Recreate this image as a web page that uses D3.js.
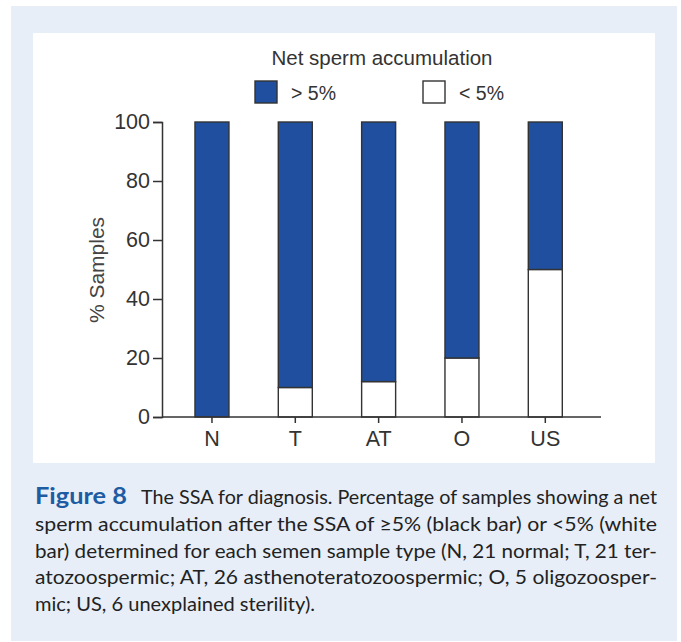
<!DOCTYPE html>
<html>
<head>
<meta charset="utf-8">
<script src="https://cdn.jsdelivr.net/npm/d3@7"></script>
<style>
  html, body { margin: 0; padding: 0; background: #fff; }
</style>
</head>
<body>
<div id="chart"></div>
<script>
// Percentage of samples per semen sample type
const categories = ['N', 'T', 'AT', 'O', 'US'];
const above5 = [100, 90, 88, 80, 50];   // net accumulation >= 5%
const below5 = [0, 10, 12, 20, 50];     // net accumulation < 5%
const yTicks = [0, 20, 40, 60, 80, 100];
const legendLabels = ['> 5%', '< 5%'];

const captionLines = [
    'sperm accumulation after the SSA of \u22655% (black bar) or <5% (white',
    'bar) determined for each semen sample type (N, 21 normal; T, 21 ter-',
    'atozoospermic; AT, 26 asthenoteratozoospermic; O, 5 oligozoosper-',
    'mic; US, 6 unexplained sterility).'
];

const W = 681, H = 642;
const blue = '#1f4f9e';
const ink = '#333';
const chartFont = '"Liberation Sans", Arial, sans-serif';

const svg = d3.select('#chart')
    .append('svg')
    .attr('width', W)
    .attr('height', H);

// outer panel and white plot area
svg.append('rect').attr('x', 11).attr('y', 6).attr('width', 666).attr('height', 635).attr('fill', '#e7eef8');
svg.append('rect').attr('x', 33).attr('y', 33).attr('width', 622).attr('height', 430).attr('fill', '#fff');

// scales
const x = d3.scaleBand()
    .domain(categories)
    .range([162, 601])
    .paddingInner(0.592)
    .paddingOuter(0.43)
    .align(0.46);

const y = d3.scaleLinear()
    .domain([0, 100])
    .range([417, 122]);

// stacked data
const stackData = categories.map((c, i) => ({ cat: c, below: below5[i], above: above5[i] }));
const series = d3.stack().keys(['below', 'above'])(stackData);
const fills = { below: '#fff', above: blue };

svg.append('g')
    .selectAll('g')
    .data(series)
    .enter()
    .append('g')
    .attr('fill', d => fills[d.key])
    .selectAll('rect')
    .data(d => d.filter(s => s[1] > s[0]))
    .enter()
    .append('rect')
    .attr('x', d => x(d.data.cat))
    .attr('y', d => y(d[1]))
    .attr('width', x.bandwidth())
    .attr('height', d => y(d[0]) - y(d[1]))
    .attr('stroke', ink)
    .attr('stroke-width', 1.4);

// y axis
const yAxis = svg.append('g')
    .attr('transform', 'translate(162,0)')
    .call(d3.axisLeft(y).tickValues(yTicks).tickSize(9).tickPadding(3));

// x axis
const xAxis = svg.append('g')
    .attr('transform', 'translate(0,417)')
    .call(d3.axisBottom(x).tickSize(6).tickPadding(8));

[yAxis, xAxis].forEach(a => {
    a.select('.domain').attr('stroke', ink).attr('stroke-width', 1.5);
    a.selectAll('.tick line').attr('stroke', ink).attr('stroke-width', 1.5);
    a.selectAll('.tick text')
        .attr('fill', ink)
        .style('font-family', chartFont)
        .style('font-size', '21.5px');
});
xAxis.select('.domain').attr('d', 'M162,0H601');

// y axis label
svg.append('text')
    .attr('transform', 'translate(104,270) rotate(-90)')
    .attr('text-anchor', 'middle')
    .attr('fill', '#444')
    .style('font-family', chartFont)
    .style('font-size', '21px')
    .text('% Samples');

// legend
svg.append('text')
    .attr('x', 382)
    .attr('y', 65)
    .attr('text-anchor', 'middle')
    .attr('fill', ink)
    .style('font-family', chartFont)
    .style('font-size', '20.5px')
    .text('Net sperm accumulation');

const legend = svg.selectAll('.legend-item')
    .data(legendLabels)
    .enter()
    .append('g')
    .attr('class', 'legend-item')
    .attr('transform', (d, i) => `translate(${255 + i * 168}, 81)`);

legend.append('rect')
    .attr('width', 22)
    .attr('height', 22)
    .attr('fill', (d, i) => i === 0 ? blue : '#fff')
    .attr('stroke', ink)
    .attr('stroke-width', 1.4);

legend.append('text')
    .attr('x', 36)
    .attr('y', 19)
    .attr('fill', ink)
    .style('font-family', chartFont)
    .style('font-size', '19.5px')
    .text(d => d);

// caption
const capFont = 'Lato, "Open Sans", sans-serif';
svg.append('text')
    .attr('x', 35)
    .attr('y', 504)
    .attr('fill', '#1d5ba3')
    .style('font-family', capFont)
    .style('font-weight', 'bold')
    .style('font-size', '23px')
    .attr('textLength', 92)
    .attr('lengthAdjust', 'spacingAndGlyphs')
    .text('Figure 8');

svg.append('text')
    .attr('x', 141)
    .attr('y', 504)
    .attr('fill', '#222')
    .attr('textLength', 516)
    .attr('lengthAdjust', 'spacingAndGlyphs')
    .style('font-family', capFont)
    .style('font-size', '20px')
    .text('The SSA for diagnosis. Percentage of samples showing a net');

svg.selectAll('.cap')
    .data(captionLines)
    .enter()
    .append('text')
    .attr('class', 'cap')
    .attr('x', 35)
    .attr('y', (d, i) => 531 + i * 26.7)
    .attr('fill', '#222')
    .attr('textLength', (d, i) => i < captionLines.length - 1 ? 622 : 280)
    .attr('lengthAdjust', 'spacingAndGlyphs')
    .style('font-family', capFont)
    .style('font-size', '20px')
    .text(d => d);
</script>
</body>
</html>
